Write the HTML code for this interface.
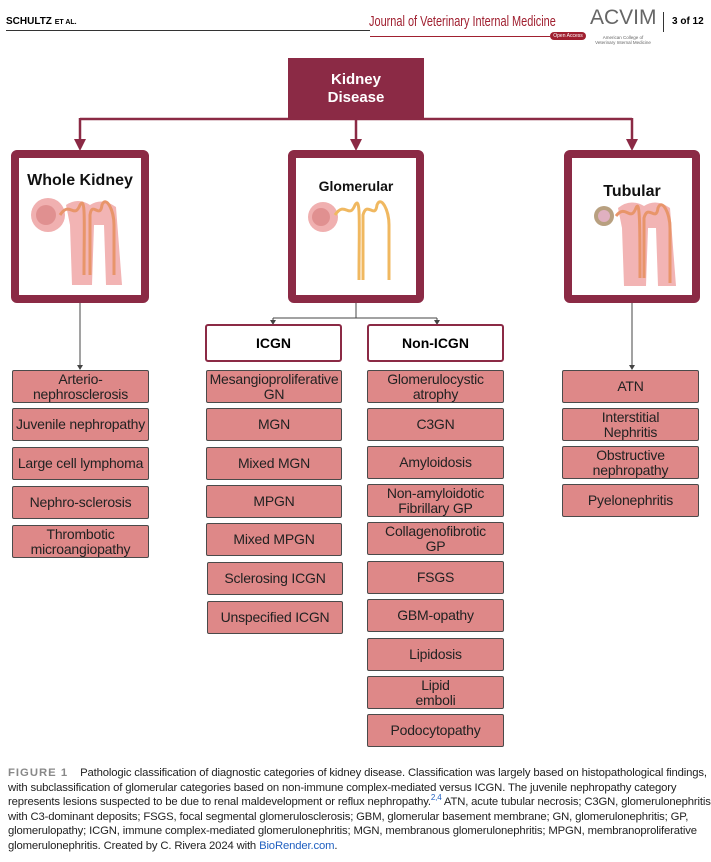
<!DOCTYPE html>
<html><head><meta charset="utf-8"><style>
body{margin:0;width:711px;height:862px;background:#fff;position:relative;font-family:"Liberation Sans",Arial,sans-serif;overflow:hidden}
.a{position:absolute}
.p{position:absolute;background:#de8888;border:1px solid #4a4a4a;border-radius:2px;box-sizing:border-box;display:flex;align-items:center;justify-content:center;text-align:center;font-size:14px;line-height:15px;color:#222;height:33px;white-space:nowrap;letter-spacing:-0.2px}
.big{position:absolute;border:8px solid #8b2a45;border-radius:6px;box-sizing:border-box;background:#fff;text-align:center;font-weight:bold;font-size:16px;color:#111}
.sub{position:absolute;border:2px solid #8b2a45;border-radius:3px;box-sizing:border-box;background:#fff;display:flex;align-items:center;justify-content:center;font-weight:bold;font-size:14px;height:38px}
.cap{position:absolute;left:8px;top:766px;width:720px;font-size:11.3px;line-height:14.6px;color:#222;letter-spacing:-0.15px;white-space:nowrap}
sup{line-height:0;font-size:8px;color:#2060c0}
</style></head><body>
<div class="a" style="left:6px;top:16px;font-size:10px;font-weight:bold">SCHULTZ <span style="font-size:7px">ET AL.</span></div>
<div class="a" style="left:6px;top:30px;width:364px;height:1px;background:#333"></div>
<div class="a" style="left:369px;top:13px;font-size:15px;color:#a02030;transform:scaleX(0.73);transform-origin:0 0;white-space:nowrap">Journal of Veterinary Internal Medicine</div>
<div class="a" style="left:370px;top:36px;width:180px;height:1px;background:#a02030"></div>
<div class="a" style="left:550px;top:32px;width:36px;height:8px;border-radius:4px;background:#a02030;color:#fff;font-size:5px;line-height:8px;text-align:center">Open Access</div>
<div class="a" style="left:590px;top:6px;font-size:21px;color:#666">ACVIM</div>
<div class="a" style="left:592px;top:35px;font-size:4.5px;color:#666;width:62px;text-align:center;line-height:5px">American College of<br>Veterinary Internal Medicine</div>
<div class="a" style="left:663px;top:12px;width:1px;height:20px;background:#333"></div>
<div class="a" style="left:672px;top:16px;font-size:10px;font-weight:bold">3 of 12</div>

<div class="a" style="left:288px;top:58px;width:136px;height:61px;background:#8b2a45;color:#fff;font-weight:bold;font-size:15px;line-height:18px;display:flex;align-items:center;justify-content:center;text-align:center">Kidney<br>Disease</div>

<svg class="a" style="left:0;top:0" width="711" height="760">
<g stroke="#8b2a45" stroke-width="2.5" fill="none"><path d="M80 119H632M80 118V144M356 118V144M632 118V144"/></g>
<g fill="#8b2a45"><path d="M74 139H86L80 151Z"/><path d="M350 139H362L356 151Z"/><path d="M626 139H638L632 151Z"/></g>
<g stroke="#444" stroke-width="1" fill="none"><path d="M80 303V368M632 303V368M356 303V318M273 318H437M273 318V322M437 318V322"/></g>
<g fill="#444"><path d="M77 365H83L80 370Z"/><path d="M629 365H635L632 370Z"/><path d="M270 320H276L273 325Z"/><path d="M434 320H440L437 325Z"/></g>
</svg>

<div class="big" style="left:11px;top:150px;width:138px;height:153px;padding-top:14px">Whole Kidney</div>
<div class="big" style="left:288px;top:150px;width:136px;height:153px;padding-top:20px;font-size:14px">Glomerular</div>
<div class="big" style="left:564px;top:150px;width:136px;height:153px;padding-top:25px">Tubular</div>

<svg class="a" style="left:30px;top:195px" width="100" height="95">
<circle cx="18" cy="20" r="17" fill="#f0b0b0"/><circle cx="16" cy="20" r="10" fill="#e09090"/>
<path d="M36 10 Q48 2 60 10 Q72 2 86 12 L92 90 L76 90 L74 30 L64 30 L62 90 L42 90 L40 30 Z" fill="#f2b4b4"/>
<path d="M30 20 C40 5 44 25 50 10 C56 0 54 30 54 80 M60 80 V20 C62 5 70 25 72 10 C76 0 84 15 84 30 V80" stroke="#e8956a" stroke-width="3" fill="none"/>
</svg>
<svg class="a" style="left:305px;top:195px" width="100" height="95">
<circle cx="18" cy="22" r="15" fill="#f0b0b0"/><circle cx="16" cy="22" r="9" fill="#e09090"/>
<path d="M30 20 C40 5 44 25 50 10 C56 0 54 30 54 85 M58 85 V20 C62 5 70 25 72 10 C76 0 84 15 84 30 V85" stroke="#f0b860" stroke-width="3" fill="none"/>
</svg>
<svg class="a" style="left:590px;top:198px" width="100" height="95">
<circle cx="14" cy="18" r="10" fill="#b8a080"/><circle cx="14" cy="18" r="6" fill="#e0b0c0"/>
<path d="M28 10 Q40 0 54 8 Q66 0 80 10 L86 88 L68 88 L66 30 L58 30 L56 88 L34 88 L32 30 Z" fill="#f2b4b4"/>
<path d="M26 18 C36 5 40 25 46 10 C50 0 50 30 50 80 M54 80 V20 C58 5 66 25 68 10 C72 0 80 15 80 30 V85" stroke="#e8956a" stroke-width="3" fill="none"/>
</svg>

<div class="sub" style="left:205px;top:324px;width:137px">ICGN</div>
<div class="sub" style="left:367px;top:324px;width:137px">Non-ICGN</div>

<div class="p" style="left:12px;top:370px;width:137px">Arterio-<br>nephrosclerosis</div>
<div class="p" style="left:12px;top:408px;width:137px">Juvenile nephropathy</div>
<div class="p" style="left:12px;top:447px;width:137px">Large cell lymphoma</div>
<div class="p" style="left:12px;top:486px;width:137px">Nephro-sclerosis</div>
<div class="p" style="left:12px;top:525px;width:137px">Thrombotic<br>microangiopathy</div>

<div class="p" style="left:206px;top:370px;width:136px">Mesangioproliferative<br>GN</div>
<div class="p" style="left:206px;top:408px;width:136px">MGN</div>
<div class="p" style="left:206px;top:447px;width:136px">Mixed MGN</div>
<div class="p" style="left:206px;top:485px;width:136px">MPGN</div>
<div class="p" style="left:206px;top:523px;width:136px">Mixed MPGN</div>
<div class="p" style="left:207px;top:562px;width:136px">Sclerosing ICGN</div>
<div class="p" style="left:207px;top:601px;width:136px">Unspecified ICGN</div>

<div class="p" style="left:367px;top:370px;width:137px">Glomerulocystic<br>atrophy</div>
<div class="p" style="left:367px;top:408px;width:137px">C3GN</div>
<div class="p" style="left:367px;top:446px;width:137px">Amyloidosis</div>
<div class="p" style="left:367px;top:484px;width:137px">Non-amyloidotic<br>Fibrillary GP</div>
<div class="p" style="left:367px;top:522px;width:137px">Collagenofibrotic<br>GP</div>
<div class="p" style="left:367px;top:561px;width:137px">FSGS</div>
<div class="p" style="left:367px;top:599px;width:137px">GBM-opathy</div>
<div class="p" style="left:367px;top:638px;width:137px">Lipidosis</div>
<div class="p" style="left:367px;top:676px;width:137px">Lipid<br>emboli</div>
<div class="p" style="left:367px;top:714px;width:137px">Podocytopathy</div>

<div class="p" style="left:562px;top:370px;width:137px">ATN</div>
<div class="p" style="left:562px;top:408px;width:137px">Interstitial<br>Nephritis</div>
<div class="p" style="left:562px;top:446px;width:137px">Obstructive<br>nephropathy</div>
<div class="p" style="left:562px;top:484px;width:137px">Pyelonephritis</div>

<div class="cap"><span style="color:#888;font-weight:bold;letter-spacing:1px">FIGURE 1</span>&nbsp;&nbsp;&nbsp; Pathologic classification of diagnostic categories of kidney disease. Classification was largely based on histopathological findings,<br>with subclassification of glomerular categories based on non-immune complex-mediated versus ICGN. The juvenile nephropathy category<br>represents lesions suspected to be due to renal maldevelopment or reflux nephropathy.<sup>2,4</sup> ATN, acute tubular necrosis; C3GN, glomerulonephritis<br>with C3-dominant deposits; FSGS, focal segmental glomerulosclerosis; GBM, glomerular basement membrane; GN, glomerulonephritis; GP,<br>glomerulopathy; ICGN, immune complex-mediated glomerulonephritis; MGN, membranous glomerulonephritis; MPGN, membranoproliferative<br>glomerulonephritis. Created by C. Rivera 2024 with <span style="color:#2060c0">BioRender.com</span>.</div>
</body></html>
